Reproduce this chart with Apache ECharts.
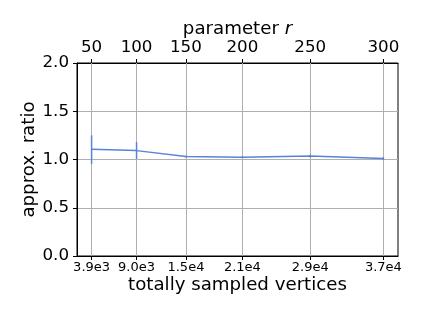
<!DOCTYPE html>
<html>
<head>
<meta charset="utf-8">
<script src="https://cdn.jsdelivr.net/npm/echarts@6/dist/echarts.min.js"></script>
<style>html,body{margin:0;padding:0;background:#fff}#c{width:423px;height:317px}</style>
</head>
<body>
<div id="c"></div>
<script>
// data
var vertices = [3900, 9000, 14600, 21000, 28700, 37000];
var vertexLabels = ['3.9e3', '9.0e3', '1.5e4', '2.1e4', '2.9e4', '3.7e4'];
var rLabels = ['50', '100', '150', '200', '250', '300'];
var ratio = [1.105, 1.092, 1.030, 1.024, 1.035, 1.010];
var ratioLow = [0.955, 1.005, 1.020, 1.014, 1.022, 0.995];
var ratioHigh = [1.250, 1.180, 1.040, 1.034, 1.048, 1.025];
var yTicks = [0, 0.5, 1.0, 1.5, 2.0];

var xMin = 2245, xMax = 38655;
var FONT = 'DejaVu Sans';
var NAME_FS = 18.2;
var lineColor = '#5a82d8';

var chart = echarts.init(document.getElementById('c'));
var lineData = vertices.map(function (v, i) { return [v, ratio[i]]; });
var errData = vertices.map(function (v, i) { return [v, ratioLow[i], ratioHigh[i]]; });

function labelFor(arr) {
  return function (val) {
    for (var i = 0; i < vertices.length; i++) if (Math.abs(vertices[i] - val) < 1e-6) return arr[i];
    return '';
  };
}

chart.setOption({
  animation: false,
  textStyle: { fontFamily: FONT },
  grid: { left: 77, right: 25, top: 63, bottom: 61, show: true, borderColor: '#000', borderWidth: 1, backgroundColor: 'transparent' },
  xAxis: [{
    type: 'value', position: 'bottom', min: xMin, max: xMax,
    name: 'totally sampled vertices', nameLocation: 'middle', nameGap: 20, nameMoveOverlap: false,
    nameTextStyle: { fontSize: NAME_FS, color: '#000', fontFamily: FONT },
    axisLine: { show: true, lineStyle: { color: '#000', width: 1 } },
    axisTick: { show: true, customValues: vertices, length: 4, lineStyle: { color: '#000' } },
    axisLabel: { customValues: vertices, formatter: labelFor(vertexLabels), fontSize: 13, color: '#000', margin: 5, fontFamily: FONT, showMinLabel: true, showMaxLabel: true },
    splitLine: { show: false }
  }, {
    type: 'value', position: 'top', min: xMin, max: xMax,
    name: '{n|parameter }{i|r}', nameLocation: 'middle', nameGap: 25, nameMoveOverlap: false,
    nameTextStyle: { fontSize: NAME_FS, color: '#000', fontFamily: FONT,
      rich: { n: { fontSize: NAME_FS, color: '#000', fontFamily: FONT }, i: { fontSize: NAME_FS, color: '#000', fontStyle: 'italic', fontFamily: FONT } } },
    axisLine: { show: true, lineStyle: { color: '#000', width: 1 } },
    axisTick: { show: true, customValues: vertices, length: 4, lineStyle: { color: '#000' } },
    axisLabel: { customValues: vertices, formatter: labelFor(rLabels), fontSize: 16.7, color: '#000', margin: 7, fontFamily: FONT },
    splitLine: { show: false }
  }],
  yAxis: [{
    type: 'value', min: 0, max: 2, interval: 0.5,
    name: 'approx. ratio', nameLocation: 'middle', nameGap: 39, nameMoveOverlap: false,
    nameTextStyle: { fontSize: NAME_FS, color: '#000', fontFamily: FONT },
    axisLine: { show: true, lineStyle: { color: '#000', width: 1 } },
    axisTick: { show: true, length: 4, lineStyle: { color: '#000' } },
    axisLabel: { formatter: function (v) { return v.toFixed(1); }, fontSize: 16.7, color: '#000', margin: 8, fontFamily: FONT },
    splitLine: { show: true, lineStyle: { color: '#b0b0b0', width: 1 } }
  }],
  series: [{
    type: 'line', xAxisIndex: 0, data: lineData, symbol: 'none',
    lineStyle: { color: lineColor, width: 1.5 }, z: 3,
    markLine: {
      silent: true, symbol: 'none', label: { show: false },
      lineStyle: { color: '#b0b0b0', width: 1, type: 'solid' },
      data: vertices.map(function (v) { return { xAxis: v }; }), z: 1
    }
  }, {
    type: 'custom', xAxisIndex: 0, data: errData, z: 4,
    renderItem: function (params, api) {
      var x = api.value(0);
      var p1 = api.coord([x, api.value(1)]);
      var p2 = api.coord([x, api.value(2)]);
      return { type: 'line', shape: { x1: p1[0], y1: p1[1], x2: p2[0], y2: p2[1] }, style: { stroke: lineColor, lineWidth: 1.5 } };
    }
  }]
});
</script>
</body>
</html>
